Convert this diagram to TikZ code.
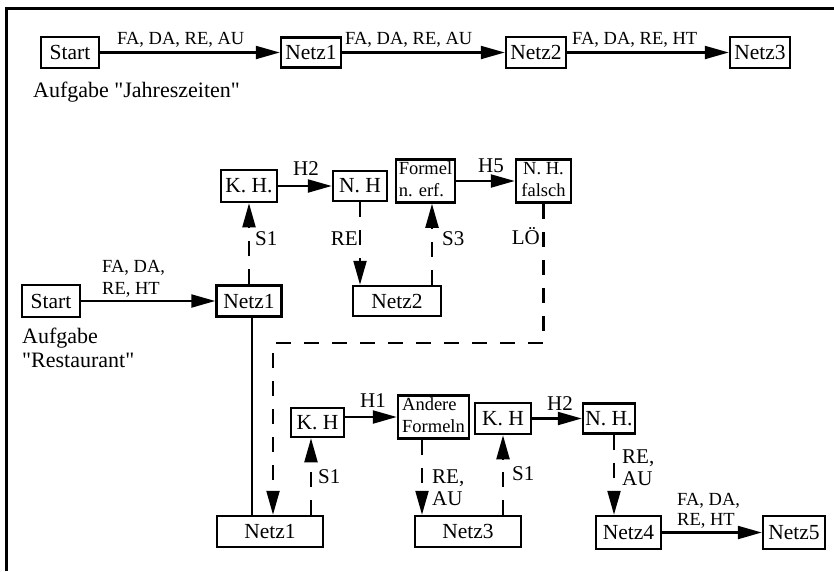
\documentclass[tikz,border=0pt]{standalone}
\usepackage{fontspec}
\setmainfont{Liberation Serif}[Ligatures=TeXOff]
\usetikzlibrary{arrows.meta,calc}
\newcommand\twol[2]{\begin{tabular}[t]{@{}l@{}}#1\\#2\end{tabular}}
\newcommand\twoc[2]{\begin{tabular}{@{}c@{}}#1\\#2\end{tabular}}
\newcommand\twoll[2]{\begin{tabular}{@{}l@{}}#1\\#2\end{tabular}}
\begin{document}
\begin{tikzpicture}[x=1pt,y=-1pt,
 box/.style={draw, line width=2.5pt, inner sep=0pt, font=\fontsize{21.5}{24}\selectfont},
 smallbox/.style={box, font=\fontsize{18.5}{21.5}\selectfont},
 conn/.style={line width=2.2pt, -{Triangle[length=24pt,width=13pt]}},
 dconn/.style={conn, dash pattern=on 15pt off 13pt},
 elab/.style={inner sep=0pt, anchor=base west, font=\fontsize{18.5}{22}\selectfont},
 slab/.style={inner sep=0pt, anchor=base west, font=\fontsize{21}{22}\selectfont},
 title/.style={inner sep=0pt, anchor=base west, font=\fontsize{22}{24}\selectfont},
]
\useasboundingbox (0,0) rectangle (834,571);
\fill[white] (0,0) rectangle (834,571);
\draw[line width=3pt] (6.5,571) -- (6.5,8) -- (834,8);

% top row
\node[box, minimum width=58pt, minimum height=31pt] (s0) at (70,52.5) {Start};
\node[box, minimum width=60pt, minimum height=30pt] (a1) at (311,52.5) {Netz1};
\node[box, minimum width=60pt, minimum height=31pt] (a2) at (536,52.5) {Netz2};
\node[box, minimum width=60pt, minimum height=31pt] (a3) at (760,52.5) {Netz3};
\draw[conn] (s0) -- (a1);
\draw[conn] (a1) -- (a2);
\draw[conn] (a2) -- (a3);
\node[elab] (lb1) at (117,44) {FA, DA, RE, AU};
\node[elab] (lb2) at (345,44) {FA, DA, RE, AU};
\node[elab] (lb3) at (572,44) {FA, DA, RE, HT};
\node[title] (t1) at (33,97) {Aufgabe "Jahreszeiten"};

% middle
\node[box, minimum width=58pt, minimum height=32pt] (s1) at (51,301) {Start};
\node[box, minimum width=65pt, minimum height=31pt] (m1) at (249,301) {Netz1};
\node[box, minimum width=88pt, minimum height=30pt] (m2) at (397,301) {Netz2};
\node[box, minimum width=56pt, minimum height=32pt] (k1) at (249,186) {K. H.};
\node[box, minimum width=54pt, minimum height=30pt] (n1) at (360,186) {N. H};
\node[smallbox, minimum width=59pt, minimum height=40pt] (f1) at (425.5,181) {\twoll{Formel}{n. erf.}};
\node[smallbox, minimum width=55pt, minimum height=40pt] (f2) at (543.5,181) {\twoc{N. H.}{falsch}};
\draw[conn] (s1) -- (m1);
\draw[conn] (k1) -- (n1);
\draw[conn] (f1) -- (f2);
\draw[dconn] (m1.north) -- (k1.south);
\draw[dconn] (n1.south) -- (n1.south |- m2.north);
\coordinate (f1s) at ([xshift=6.5pt]f1.south);
\draw[dconn] (f1s |- m2.north) -- (f1s);
\node[elab] (lb4) at (102,272) {\twol{FA, DA,}{RE, HT}};
\node[title] (t2) at (22,343) {\twol{Aufgabe}{"Restaurant"}};
\node[slab] (h2a) at (293,175) {H2};
\node[slab] (h5) at (478,172) {H5};
\node[slab] (s1a) at (255,245) {S1};
\node[slab, anchor=base east] (re1) at (358,245) {RE};
\node[slab] (s3) at (442,245) {S3};
\node[slab, anchor=base east] (lo) at (540,244) {LÖ};

% lower
\node[box, minimum width=106pt, minimum height=31pt] (b1) at (270,531.5) {Netz1};
\node[box, minimum width=53pt, minimum height=29pt] (k2) at (317.5,422.5) {K. H};
\node[smallbox, minimum width=71pt, minimum height=40pt] (af) at (433.5,417) {\twoll{Andere}{Formeln}};
\node[box, minimum width=106pt, minimum height=31pt] (b3) at (468,531.5) {Netz3};
\node[box, minimum width=56pt, minimum height=31pt] (k3) at (503,418.5) {K. H};
\node[box, minimum width=52pt, minimum height=30pt] (n2) at (609,418.5) {N. H.};
\node[box, minimum width=65pt, minimum height=33pt] (b4) at (628.5,532.5) {Netz4};
\node[box, minimum width=62pt, minimum height=33pt] (b5) at (794,532.5) {Netz5};

\coordinate (c2) at (273,343);
\draw[dconn] (f2.south) |- (c2) -- (c2 |- b1.north);
\draw[line width=2.2pt] ([xshift=3pt]m1.south) -- ([xshift=3pt]m1.south |- b1.north);
\coordinate (k2s) at ([xshift=-6.5pt]k2.south);
\draw[dconn] (k2s |- b1.north) -- (k2s);
\draw[conn] (k2.east |- af.west) -- (af.west);
\coordinate (afs) at ([xshift=-11.5pt]af.south);
\draw[dconn] (afs) -- (afs |- b3.north);
\draw[dconn] (k3.south |- b3.north) -- (k3.south);
\draw[conn] (k3) -- (n2);
\coordinate (n2s) at ([xshift=5pt]n2.south);
\draw[dconn] (n2s) -- (n2s |- b4.north);
\draw[conn] (b4) -- (b5);

\node[slab] (s1b) at (318,483) {S1};
\node[slab] (h1) at (360,407) {H1};
\node[slab] (rea) at (432,483) {\twol{RE,}{AU}};
\node[slab] (s1c) at (512,480) {S1};
\node[slab] (h2b) at (547,410) {H2};
\node[slab] (reb) at (622,463) {\twol{RE,}{AU}};
\node[elab, font=\fontsize{18.5}{20}\selectfont] (lb5) at (677,505) {\twol{FA, DA,}{RE, HT}};
\end{tikzpicture}
\end{document}
